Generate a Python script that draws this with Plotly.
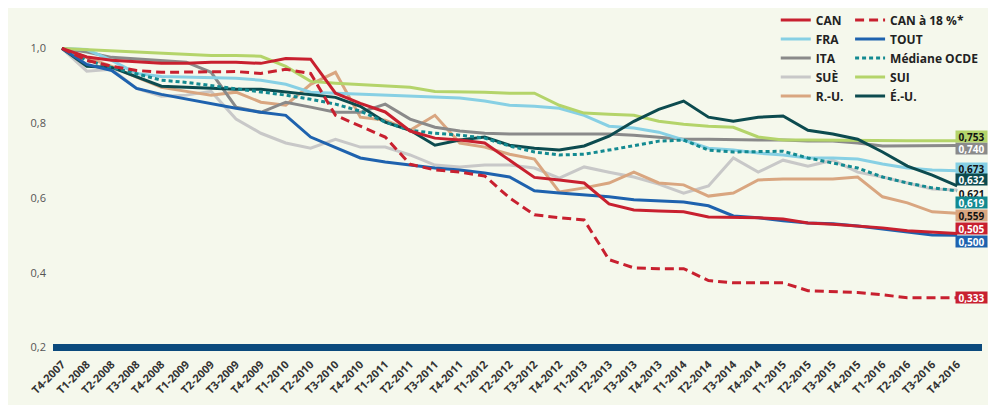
import plotly.graph_objects as go

quarters = ["T4-2007", "T1-2008", "T2-2008", "T3-2008", "T4-2008", "T1-2009", "T2-2009",
            "T3-2009", "T4-2009", "T1-2010", "T2-2010", "T3-2010", "T4-2010", "T1-2011",
            "T2-2011", "T3-2011", "T4-2011", "T1-2012", "T2-2012", "T3-2012", "T4-2012",
            "T1-2013", "T2-2013", "T3-2013", "T4-2013", "T1-2014", "T2-2014", "T3-2014",
            "T4-2014", "T1-2015", "T2-2015", "T3-2015", "T4-2015", "T1-2016", "T2-2016",
            "T3-2016", "T4-2016"]

can = [1.0, 0.977, 0.968, 0.963, 0.96, 0.96, 0.963, 0.963, 0.96, 0.973, 0.971, 0.88, 0.853,
       0.83, 0.779, 0.76, 0.755, 0.747, 0.70, 0.655, 0.648, 0.64, 0.584, 0.568, 0.565, 0.563,
       0.549, 0.549, 0.547, 0.544, 0.533, 0.53, 0.525, 0.52, 0.512, 0.508, 0.505]
can18 = [1.0, 0.968, 0.952, 0.941, 0.936, 0.936, 0.936, 0.938, 0.933, 0.944, 0.933, 0.821,
         0.792, 0.763, 0.69, 0.675, 0.669, 0.659, 0.60, 0.555, 0.547, 0.541, 0.435, 0.413,
         0.411, 0.411, 0.379, 0.373, 0.373, 0.373, 0.352, 0.349, 0.347, 0.341, 0.333, 0.333,
         0.333]
fra = [1.0, 0.997, 0.968, 0.933, 0.925, 0.923, 0.923, 0.92, 0.915, 0.904, 0.883, 0.88, 0.877,
       0.875, 0.872, 0.869, 0.867, 0.859, 0.848, 0.845, 0.84, 0.821, 0.792, 0.787, 0.776,
       0.755, 0.733, 0.728, 0.72, 0.715, 0.707, 0.707, 0.704, 0.691, 0.68, 0.675, 0.673]
ita = [1.0, 0.99, 0.976, 0.971, 0.968, 0.963, 0.936, 0.843, 0.829, 0.856, 0.843, 0.829, 0.829,
       0.851, 0.811, 0.789, 0.779, 0.773, 0.771, 0.771, 0.771, 0.771, 0.771, 0.768, 0.763,
       0.757, 0.757, 0.755, 0.755, 0.755, 0.752, 0.752, 0.747, 0.739, 0.74, 0.74, 0.740]
sue = [1.0, 0.939, 0.944, 0.893, 0.872, 0.875, 0.885, 0.811, 0.773, 0.747, 0.733, 0.757, 0.736,
       0.736, 0.715, 0.688, 0.683, 0.688, 0.688, 0.68, 0.653, 0.683, 0.669, 0.656, 0.637,
       0.613, 0.632, 0.707, 0.669, 0.701, 0.685, 0.701, 0.669, 0.656, 0.64, 0.624, 0.621]
ru = [1.0, 0.975, 0.952, 0.923, 0.896, 0.885, 0.875, 0.883, 0.856, 0.848, 0.904, 0.936, 0.816,
      0.808, 0.781, 0.821, 0.747, 0.736, 0.717, 0.704, 0.616, 0.627, 0.64, 0.669, 0.64, 0.635,
      0.605, 0.613, 0.648, 0.651, 0.651, 0.651, 0.656, 0.603, 0.587, 0.563, 0.559]
tout = [1.0, 0.957, 0.941, 0.893, 0.877, 0.864, 0.853, 0.84, 0.829, 0.821, 0.763, 0.736, 0.707,
        0.696, 0.688, 0.68, 0.675, 0.667, 0.656, 0.619, 0.613, 0.608, 0.603, 0.595, 0.592,
        0.589, 0.579, 0.552, 0.547, 0.539, 0.533, 0.531, 0.525, 0.517, 0.507, 0.501, 0.500]
ocde = [1.0, 0.968, 0.949, 0.933, 0.915, 0.909, 0.901, 0.893, 0.885, 0.875, 0.864, 0.851, 0.832,
        0.803, 0.781, 0.773, 0.768, 0.76, 0.739, 0.723, 0.715, 0.717, 0.728, 0.741, 0.752,
        0.755, 0.728, 0.723, 0.723, 0.725, 0.707, 0.693, 0.68, 0.656, 0.64, 0.627, 0.619]
sui = [1.0, 0.997, 0.992, 0.989, 0.987, 0.984, 0.981, 0.981, 0.979, 0.952, 0.912, 0.907, 0.904,
       0.901, 0.896, 0.885, 0.885, 0.883, 0.88, 0.88, 0.848, 0.827, 0.824, 0.821, 0.805, 0.797,
       0.792, 0.789, 0.763, 0.755, 0.755, 0.754, 0.754, 0.753, 0.753, 0.753, 0.753]
eu = [1.0, 0.952, 0.949, 0.923, 0.899, 0.896, 0.893, 0.891, 0.891, 0.883, 0.877, 0.869, 0.845,
      0.803, 0.781, 0.741, 0.755, 0.763, 0.741, 0.733, 0.728, 0.739, 0.765, 0.805, 0.837,
      0.859, 0.816, 0.805, 0.816, 0.819, 0.781, 0.771, 0.757, 0.723, 0.685, 0.661, 0.632]

y_ticks = [0.2, 0.4, 0.6, 0.8, 1.0]

# name, values, colour, dash, legend, rank, label text colour, label bg, label yshift
series = [
    ("SUÈ", sue, "#c8c8c8", "solid", "legend", 4, "#111111", "rgba(0,0,0,0)", -3),
    ("R.-U.", ru, "#d9a680", "solid", "legend", 5, "#111111", "#d9a680", -2),
    ("ITA", ita, "#8a8a8a", "solid", "legend", 3, "#ffffff", "#8a8a8a", -2.5),
    ("FRA", fra, "#87d0e4", "solid", "legend", 2, "#111111", "#87d0e4", 2.5),
    ("SUI", sui, "#b4d46a", "solid", "legend2", 4, "#111111", "#b4d46a", 4.5),
    ("É.-U.", eu, "#0c4b4f", "solid", "legend2", 5, "#ffffff", "#0c4b4f", 6),
    ("Médiane OCDE", ocde, "#138a91", "4px,3px", "legend2", 3, "#ffffff", "#138a91", -12),
    ("TOUT", tout, "#1e62ae", "solid", "legend2", 2, "#ffffff", "#1e62ae", -6.5),
    ("CAN à 18 %*", can18, "#c8202f", "9px,5px", "legend2", 1, "#ffffff", "#c8202f", 0),
    ("CAN", can, "#c8202f", "solid", "legend", 1, "#ffffff", "#c8202f", 4.5),
]

fig = go.Figure()
annotations = []
for name, vals, col, dash, leg, rank, tcol, bg, ysh in series:
    fig.add_trace(go.Scatter(
        x=quarters, y=vals, mode="lines", name=name,
        line=dict(color=col, width=3, dash=dash),
        legend=leg, legendrank=rank, hoverinfo="skip",
    ))
    annotations.append(dict(
        x=quarters[-1], y=vals[-1], xref="x", yref="y",
        text="<b>" + f"{vals[-1]:.3f}".replace(".", ",") + "</b>",
        showarrow=False, xanchor="center", yanchor="middle",
        xshift=14, yshift=ysh, width=31, height=11, valign="middle",
        font=dict(family="Open Sans", size=10, color=tcol),
        bgcolor=bg, borderpad=0,
    ))

fig.add_shape(type="line", xref="paper", yref="y", x0=0, x1=1, y0=0.2, y1=0.2,
              line=dict(color="#0b4a7d", width=7), layer="below")

legend_common = dict(
    orientation="v", yanchor="top", xanchor="left",
    font=dict(family="Open Sans", size=12, color="#222222", weight="bold"),
    bgcolor="rgba(0,0,0,0)", traceorder="normal", itemwidth=30,
)

# page body has an 8 px default margin: figure is sized/offset to compensate
fig.update_layout(
    width=988, height=397,
    margin=dict(l=45, r=14, t=2.5, b=49.5, autoexpand=False),
    paper_bgcolor="#f5f8ec", plot_bgcolor="#f5f8ec",
    separators=", ",
    showlegend=True,
    legend=dict(x=0.778, y=1.016, **legend_common),
    legend2=dict(x=0.858, y=1.016, **legend_common),
    xaxis=dict(
        range=[-0.36, 37.0], showgrid=False, zeroline=False, showline=False,
        tickangle=-45, ticks="", automargin=False,
        tickfont=dict(family="Open Sans", size=11, color="#333333", weight="bold"),
    ),
    yaxis=dict(
        range=[0.18, 1.1], showgrid=False, zeroline=False, showline=False,
        tickvals=y_ticks, tickformat=".1f", ticks="", automargin=False,
        tickfont=dict(family="Open Sans", size=11, color="#555555"),
        ticklabelstandoff=6,
    ),
    annotations=annotations,
)

fig.write_html("out.html")
